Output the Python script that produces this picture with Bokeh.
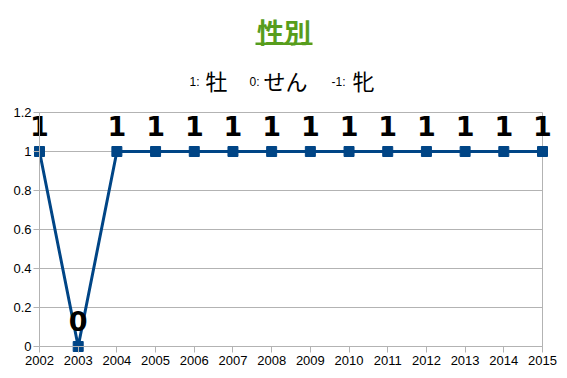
from bokeh.plotting import figure
from bokeh.models import Range1d, FixedTicker, CustomJSTickFormatter, Label, BoxAnnotation, ColumnDataSource
from bokeh.embed import file_html
from bokeh.resources import INLINE
from bokeh.core.properties import value

# ---- data ----
years = list(range(2002, 2016))
sex = [1, 0, 1, 1, 1, 1, 1, 1, 1, 1, 1, 1, 1, 1]
y_ticks = [0, 0.2, 0.4, 0.6, 0.8, 1.0, 1.2]
title_text = "性別"
legend_codes = ["1:", "0:", "-1:"]
legend_names = ["牡", "せん", "牝"]

# ---- layout (pixel geometry of the plot area) ----
W, H = 567, 378
left_px, right_px, top_px, bottom_px = 39, 542, 112, 346
px_per_year = (right_px - left_px) / (years[-1] - years[0])
px_per_unit = (bottom_px - top_px) / y_ticks[-1]
x0 = years[0] - left_px / px_per_year
x1 = years[-1] + (W - right_px) / px_per_year
y0 = y_ticks[0] - (H - bottom_px) / px_per_unit
y1 = y_ticks[-1] + top_px / px_per_unit

BLUE = "#004586"
GRID = "#b3b3b3"
GREEN = "#579d1c"

p = figure(width=W, height=H, x_range=Range1d(x0, x1), y_range=Range1d(y0, y1),
           output_backend="svg", toolbar_location=None, min_border=0)
p.outline_line_color = None
p.xgrid.visible = False
p.ygrid.visible = False

# grid lines and right border
p.segment(x0=[years[0]] * len(y_ticks), x1=[years[-1]] * len(y_ticks),
          y0=y_ticks, y1=y_ticks, line_color=GRID, line_width=1)
p.segment(x0=[years[-1]], x1=[years[-1]], y0=[y_ticks[0]], y1=[y_ticks[-1]],
          line_color=GRID, line_width=1)

# axes
for ax in p.xaxis:
    ax.fixed_location = y_ticks[0]
    ax.bounds = (years[0], years[-1])
    ax.ticker = FixedTicker(ticks=years)
    ax.minor_tick_line_color = None
    ax.major_tick_in = 0
    ax.major_tick_out = 6
    ax.axis_line_color = GRID
    ax.major_tick_line_color = GRID
    ax.major_label_text_font = "Liberation Sans"
    ax.major_label_text_font_size = "13px"
    ax.major_label_text_color = "black"
    ax.major_label_standoff = 3
for ax in p.yaxis:
    ax.fixed_location = years[0]
    ax.bounds = (y_ticks[0], y_ticks[-1])
    ax.ticker = FixedTicker(ticks=y_ticks)
    ax.formatter = CustomJSTickFormatter(code="return tick.toFixed(1).replace(/\\.0$/, '');")
    ax.minor_tick_line_color = None
    ax.major_tick_in = 0
    ax.major_tick_out = 6
    ax.axis_line_color = GRID
    ax.major_tick_line_color = GRID
    ax.major_label_text_font = "Liberation Sans"
    ax.major_label_text_font_size = "13px"
    ax.major_label_text_color = "black"
    ax.major_label_standoff = 2

src = ColumnDataSource(dict(x=years, y=sex, lab=[str(v) for v in sex]))
p.line("x", "y", source=src, line_color=BLUE, line_width=3)
p.scatter("x", "y", source=src, marker="square", size=10, fill_color=BLUE, line_color=BLUE)
p.text("x", "y", text="lab", source=src, text_font=value("DejaVu Sans"),
       text_font_style="bold", text_font_size="27px", text_align="center",
       text_baseline="middle", y_offset=-26, text_color="black")

# title
p.add_layout(Label(x=283.5, y=H - 31, x_units="screen", y_units="screen", text=title_text,
                   text_font="Noto Sans CJK JP", text_font_style="bold", text_font_size="27px",
                   text_color=GREEN, text_align="center", text_baseline="middle"))
p.add_layout(BoxAnnotation(left=255, right=312, top=H - 42, bottom=H - 44.5,
                           left_units="screen", right_units="screen", top_units="screen",
                           bottom_units="screen", fill_color=GREEN, fill_alpha=1, line_color=None))

# subtitle (legend of codes)
code_x = [189, 249, 331]
name_x = [205, 263, 352]
for cx, nx, c, n in zip(code_x, name_x, legend_codes, legend_names):
    p.add_layout(Label(x=cx, y=H - 81, x_units="screen", y_units="screen", text=c,
                       text_font="Liberation Sans", text_font_size="12px", text_color="black",
                       text_align="left", text_baseline="middle"))
    p.add_layout(Label(x=nx, y=H - 79, x_units="screen", y_units="screen", text=n,
                       text_font="Noto Sans CJK JP", text_font_size="22px", text_color="black",
                       text_align="left", text_baseline="middle"))

open("out.html", "w").write(file_html(p, INLINE))
